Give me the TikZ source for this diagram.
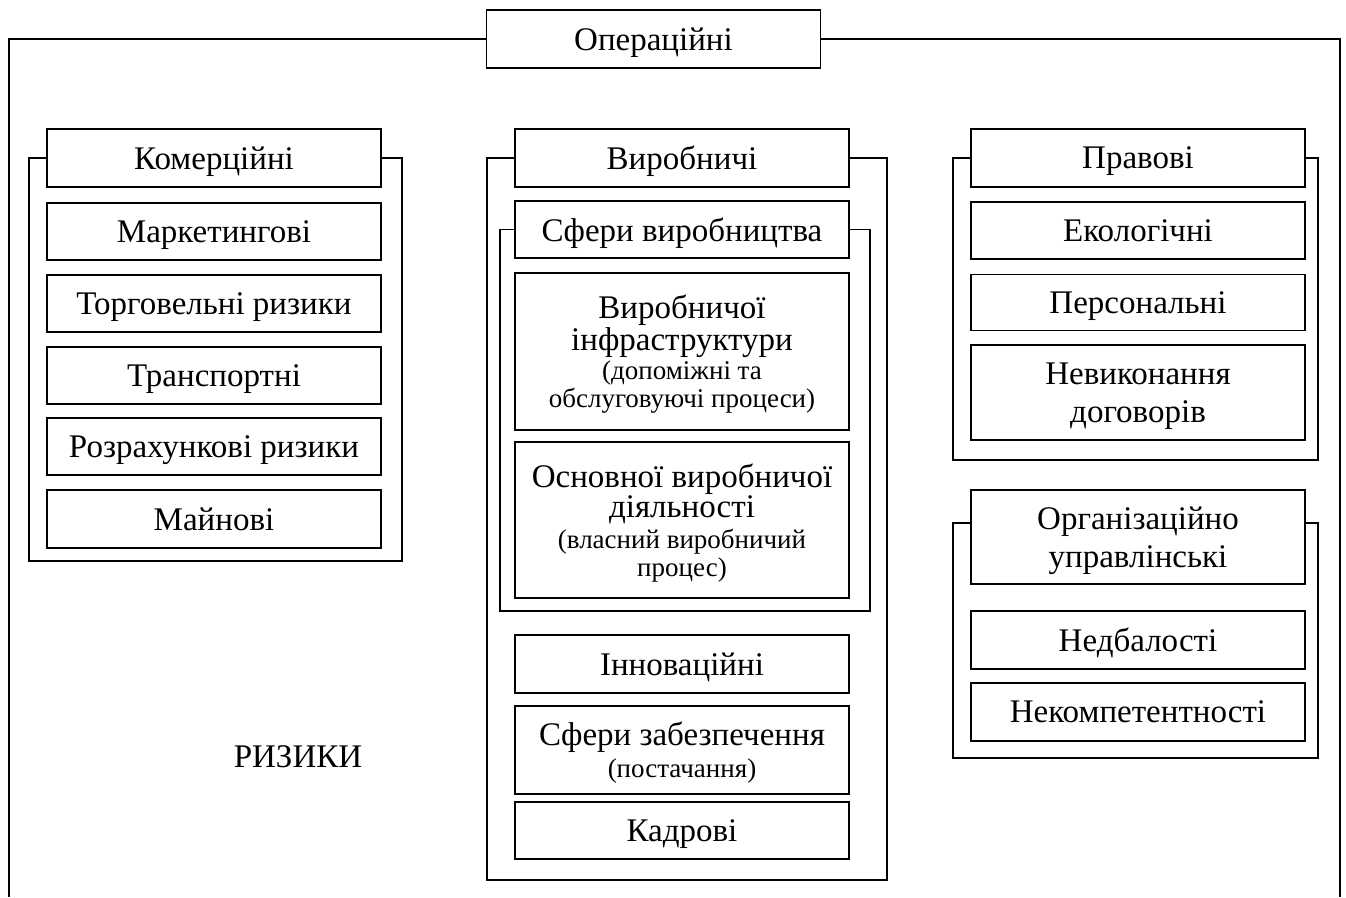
\documentclass[tikz,border=0pt]{standalone}
\usepackage{fontspec}
\setmainfont{Liberation Serif}
\begin{document}
\begin{tikzpicture}[x=1pt,y=-1pt,
  box/.style={draw,line width=1.5pt,minimum width=334pt,inner sep=0pt,align=center,
    text depth=0pt,font=\fontsize{33}{38}\selectfont},
  frame/.style={line width=1.5pt}]
\useasboundingbox (0,0) rectangle (1346,897);
\newcommand{\sm}{\fontsize{27}{29}\selectfont}
% title
\node[box,minimum height=58pt] (oper) at (653.5,39) {Операційні};
\draw[frame] (oper.west) -| (9,897);
\draw[frame] (oper.east) -| (1340,897);
% left column
\node[box,minimum height=58pt] (kom) at (214,158) {Комерційні};
\node[box,minimum height=57pt] (mark) at (214,231.5) {Маркетингові};
\node[box,minimum height=57pt] (torg) at (214,303.5) {Торговельні ризики};
\node[box,minimum height=57pt] (trans) at (214,375.5) {Транспортні};
\node[box,minimum height=57pt] (rozr) at (214,446.5) {Розрахункові ризики};
\node[box,minimum height=58pt] (main) at (214,519) {Майнові};
\coordinate (kb) at (29,561);
\draw[frame] (kom.west) -- (kom.west -| kb) -- (kb) -- (402,561) -- (402,158) -- (kom.east);
% middle column
\node[box,minimum height=58pt] (vyr) at (682,158) {Виробничі};
\node[box,minimum height=57pt] (sfv) at (682,229.5) {Сфери виробництва};
\node[box,minimum height=157pt] (infr) at (682,351.5) {Виробничої\\[-6pt]інфраструктури\\[-9pt]\sm(допоміжні та\\[-10pt]\sm обслуговуючі процеси)};
\node[box,minimum height=156pt] (osn) at (682,520) {Основної виробничої\\[-8pt]діяльності\\[-7pt]\sm(власний виробничий\\[-10pt]\sm процес)};
\node[box,minimum height=58pt] (innov) at (682,664) {Інноваційні};
\node[box,minimum height=88pt] (zab) at (682,750) {Сфери забезпечення\\[-6pt]\sm(постачання)};
\node[box,minimum height=57pt] (kadr) at (682,830.5) {Кадрові};
\coordinate (vb) at (487,880);
\draw[frame] (vyr.west) -- (vyr.west -| vb) -- (vb) -- (887,880) -- (887,158) -- (vyr.east);
\coordinate (sb) at (500,611);
\draw[frame] (sfv.west) -- (sfv.west -| sb) -- (sb) -- (870,611) -- (870,229.5) -- (sfv.east);
% right column
\node[box,minimum height=58pt] (prav) at (1138,158) {Правові};
\node[box,minimum height=57pt] (ekol) at (1138,230.5) {Екологічні};
\node[box,minimum height=56pt] (pers) at (1138,302.5) {Персональні};
\node[box,minimum height=95pt] (nevyk) at (1138,392.5) {Невиконання\\договорів};
\coordinate (pb) at (953,460);
\draw[frame] (prav.west) -- (prav.west -| pb) -- (pb) -- (1318,460) -- (1318,158) -- (prav.east);
\node[box,minimum height=94pt] (org) at (1138,537) {Організаційно\\управлінські};
\node[box,minimum height=58pt] (nedb) at (1138,640) {Недбалості};
\node[box,minimum height=58pt] (nekom) at (1138,712) {Некомпетентності};
\coordinate (ob) at (953,758);
\draw[frame] (org.west |- 0,523) -- (953,523) -- (ob) -- (1318,758) -- (1318,523) -- (org.east |- 0,523);
% label
\node[font=\fontsize{33}{38}\selectfont] (riz) at (298,757) {РИЗИКИ};
\end{tikzpicture}
\end{document}
